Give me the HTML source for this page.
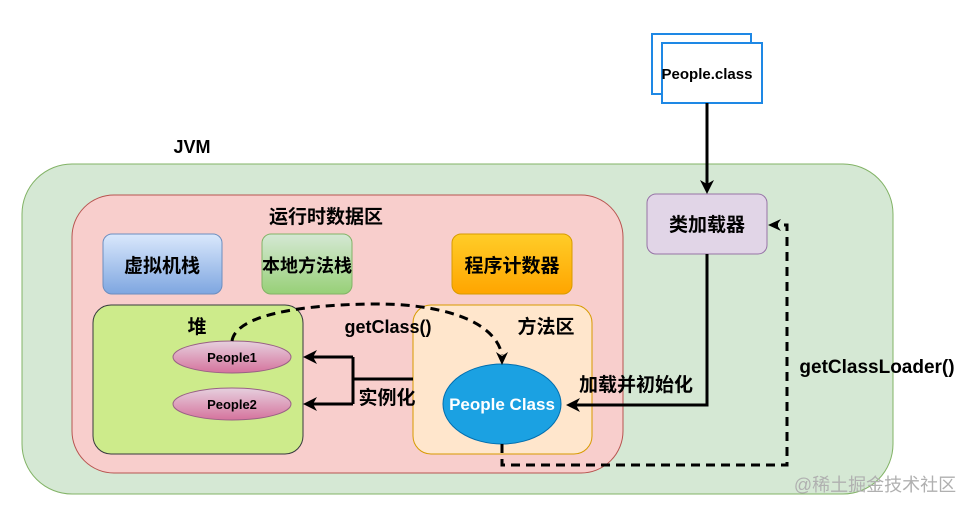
<!DOCTYPE html>
<html><head><meta charset="utf-8"><style>
body{margin:0;background:#fff;width:971px;height:510px;overflow:hidden}
text{font-family:"Liberation Sans","Noto Sans CJK SC",sans-serif;font-weight:bold}
</style></head><body>
<svg width="971" height="510" viewBox="0 0 971 510" xmlns="http://www.w3.org/2000/svg">
<defs>
<linearGradient id="gb" x1="0" y1="0" x2="0" y2="1"><stop offset="0" stop-color="#dae8fc"/><stop offset="1" stop-color="#7ea6e0"/></linearGradient>
<linearGradient id="gg" x1="0" y1="0" x2="0" y2="1"><stop offset="0" stop-color="#d5e8d4"/><stop offset="1" stop-color="#97d077"/></linearGradient>
<linearGradient id="go" x1="0" y1="0" x2="0" y2="1"><stop offset="0" stop-color="#ffcd28"/><stop offset="1" stop-color="#ffa500"/></linearGradient>
<linearGradient id="gp" x1="0" y1="0" x2="0" y2="1"><stop offset="0" stop-color="#e6d0de"/><stop offset="1" stop-color="#d5739d"/></linearGradient>
</defs>
<rect x="22" y="164" width="871" height="330" rx="50" fill="#d5e8d4" stroke="#82b366"/>
<text x="192" y="153" font-size="18" text-anchor="middle">JVM</text>
<rect x="72" y="195" width="551" height="278" rx="42" fill="#f8cecc" stroke="#b85450"/>
<text x="326" y="223" font-size="19" text-anchor="middle">运行时数据区</text>
<rect x="103" y="234" width="119" height="60" rx="9" fill="url(#gb)" stroke="#6c8ebf"/>
<text x="162" y="272" font-size="19" text-anchor="middle">虚拟机栈</text>
<rect x="262" y="234" width="90" height="60" rx="9" fill="url(#gg)" stroke="#82b366"/>
<text x="307" y="272" font-size="18" text-anchor="middle">本地方法栈</text>
<rect x="452" y="234" width="120" height="60" rx="9" fill="url(#go)" stroke="#d79b00"/>
<text x="512" y="272" font-size="19" text-anchor="middle">程序计数器</text>
<rect x="93" y="305" width="210" height="149" rx="18" fill="#cdeb8b" stroke="#36393d"/>
<text x="197" y="333" font-size="19" text-anchor="middle">堆</text>
<rect x="413" y="305" width="179" height="149" rx="18" fill="#ffe6cc" stroke="#d79b00"/>
<text x="546" y="333" font-size="19" text-anchor="middle">方法区</text>
<ellipse cx="232" cy="357" rx="59" ry="16" fill="url(#gp)" stroke="#996185"/>
<text x="232" y="362" font-size="13" text-anchor="middle">People1</text>
<ellipse cx="232" cy="404" rx="59" ry="16" fill="url(#gp)" stroke="#996185"/>
<text x="232" y="409" font-size="13" text-anchor="middle">People2</text>
<ellipse cx="502" cy="404" rx="59" ry="40" fill="#1ba1e2" stroke="#006eaf"/>
<text x="502" y="410" font-size="17" fill="#fff" text-anchor="middle">People Class</text>
<rect x="647" y="194" width="120" height="60" rx="9" fill="#e1d5e7" stroke="#9673a6"/>
<text x="707" y="231" font-size="19" text-anchor="middle">类加载器</text>
<rect x="652" y="34" width="99" height="60" fill="#fff" stroke="#1e88e5" stroke-width="2"/>
<rect x="662" y="43" width="100" height="60" fill="#fff" stroke="#1e88e5" stroke-width="2"/>
<text x="707" y="79" font-size="15" text-anchor="middle">People.class</text>
<g stroke="#000" stroke-width="3" fill="none">
<path d="M707 103V186"/>
<path d="M707 254V405H574"/>
<path d="M413 379H353M353 357V404M353 357H310M353 404H310"/>
</g>
<g fill="#000">
<path d="M707 194l-7-14 7 4 7-4z"/>
<path d="M566 405l14-7-4 7 4 7z"/>
<path d="M303 357l14-7-4 7 4 7z"/>
<path d="M303 404l14-7-4 7 4 7z"/>
<path d="M768 225l13-6-4 6 4 6z"/>
<path d="M502 365l-6-13 6 4 6-4z"/>
</g>
<g stroke="#000" stroke-width="3" fill="none" stroke-dasharray="9 6">
<path d="M502 444V465H787V225H776"/>
<path d="M232 341C236 315 300 305 370 304C440 303 495 320 502 355"/>
</g>
<text x="388" y="333" font-size="18" text-anchor="middle">getClass()</text>
<text x="387" y="404" font-size="19" text-anchor="middle">实例化</text>
<text x="636" y="391" font-size="19" text-anchor="middle">加载并初始化</text>
<text x="877" y="373" font-size="19" text-anchor="middle">getClassLoader()</text>
<text x="875" y="491" font-size="18" fill="#b0b0b0" style="font-weight:normal" text-anchor="middle">@稀土掘金技术社区</text>
</svg>
</body></html>
